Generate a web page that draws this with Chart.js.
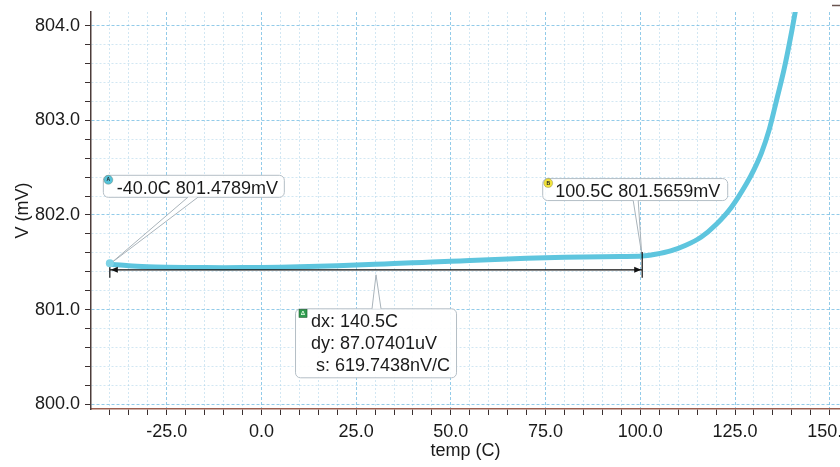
<!DOCTYPE html>
<html>
<head>
<meta charset="utf-8">
<script src="https://cdn.jsdelivr.net/npm/chart.js@4.4.1/dist/chart.umd.min.js"></script>
<style>
  html, body { margin: 0; padding: 0; background: #fff; overflow: hidden; width: 840px; height: 467px; }
  canvas { display: block; }
</style>
</head>
<body>
<canvas id="c" width="880" height="467" style="width:880px;height:467px"></canvas>
<script>
// Sweep of output voltage versus temperature
const temps = [-40, -35, -30, -25, -20, -15, -10, -5, 0, 5, 10, 15, 20, 25, 30, 35, 40, 45, 50, 55, 60, 65, 70, 75, 80, 85, 90, 95,
  100.5, 104, 108, 112, 116, 120, 124, 128, 130, 132, 134, 136, 138, 140, 142];
const voltage = [801.4789, 801.463, 801.454, 801.449, 801.446, 801.444, 801.443, 801.444, 801.446, 801.449, 801.453, 801.458,
  801.464, 801.471, 801.479, 801.487, 801.495, 801.503, 801.511, 801.519, 801.527, 801.535, 801.542, 801.548, 801.553, 801.557,
  801.560, 801.562, 801.5659, 801.585, 801.620, 801.680, 801.765, 801.900, 802.080, 802.330, 802.480, 802.660, 802.900,
  803.220, 803.550, 803.950, 804.400];

// Labelled axis ticks
const xMajorTicks = [-25, 0, 25, 50, 75, 100, 125, 150];
const yMajorTicks = [800, 801, 802, 803, 804];

// Cursors A and B and the delta readout between them
const cursorNames = ['A', 'B'];
const cursorTemps = [-40.0, 100.5];
const cursorVolts = [801.4789, 801.5659];
const deltaLines = ['dx: 140.5C', 'dy: 87.07401uV', ' s: 619.7438nV/C'];

const FONT = '"Liberation Sans", Arial, Helvetica, sans-serif';
const TEXT = '#1a1a1a';
const isMajor = (list, v) => list.some(m => Math.abs(m - v) < 1e-6);

Chart.defaults.font.family = FONT;
Chart.defaults.font.size = 18;
Chart.defaults.color = TEXT;

function roundRectPath(ctx, x, y, w, h, r) {
  ctx.beginPath();
  ctx.moveTo(x + r, y);
  ctx.arcTo(x + w, y, x + w, y + h, r);
  ctx.arcTo(x + w, y + h, x, y + h, r);
  ctx.arcTo(x, y + h, x, y, r);
  ctx.arcTo(x, y, x + w, y, r);
  ctx.closePath();
}

// Rounded label box with a pointer wedge running to a tip
function calloutBox(ctx, box, b1, b2, tip) {
  ctx.save();
  ctx.lineWidth = 1;
  ctx.strokeStyle = '#b4bec6';
  roundRectPath(ctx, box.x + 0.5, box.y + 0.5, box.w, box.h, 5);
  ctx.fillStyle = 'rgba(255,255,255,0.92)';
  ctx.fill();
  ctx.stroke();
  ctx.beginPath();
  ctx.moveTo(b1.x, b1.y);
  ctx.lineTo(tip.x, tip.y);
  ctx.lineTo(b2.x, b2.y);
  ctx.closePath();
  ctx.fillStyle = 'rgba(255,255,255,0.92)';
  ctx.fill();
  ctx.beginPath();
  ctx.moveTo(b1.x, b1.y);
  ctx.lineTo(tip.x, tip.y);
  ctx.lineTo(b2.x, b2.y);
  ctx.strokeStyle = '#a9b3ba';
  ctx.stroke();
  ctx.restore();
}

function iconCircle(ctx, cx, cy, fill, letter) {
  ctx.save();
  ctx.beginPath();
  ctx.arc(cx, cy, 4.5, 0, Math.PI * 2);
  ctx.fillStyle = fill;
  ctx.fill();
  ctx.strokeStyle = 'rgba(90,90,60,0.5)';
  ctx.lineWidth = 0.6;
  ctx.stroke();
  ctx.fillStyle = '#222';
  ctx.font = 'bold 5px ' + FONT;
  ctx.textAlign = 'center';
  ctx.textBaseline = 'middle';
  ctx.fillText(letter, cx, cy + 0.3);
  ctx.restore();
}

const cursorPlugin = {
  id: 'cursorPlugin',
  afterDatasetsDraw(chart) {
    const { ctx, scales: { x, y } } = chart;
    const ax = x.getPixelForValue(cursorTemps[0]);
    const ay = y.getPixelForValue(cursorVolts[0]);
    const bx = x.getPixelForValue(cursorTemps[1]);
    const by = y.getPixelForValue(cursorVolts[1]);
    const labelA = cursorTemps[0].toFixed(1) + 'C ' + cursorVolts[0].toFixed(4) + 'mV';
    const labelB = cursorTemps[1].toFixed(1) + 'C ' + cursorVolts[1].toFixed(4) + 'mV';

    // cursor A label
    const boxA = { x: ax - 7, y: ay - 89.5, w: 181, h: 22 };
    calloutBox(ctx, boxA, { x: ax + 78, y: boxA.y + boxA.h + 0.5 }, { x: ax + 88, y: boxA.y + boxA.h + 0.5 }, { x: ax + 1, y: ay - 1 });
    // cursor B label
    const boxB = { x: bx - 100, y: by - 78, w: 185, h: 22 };
    calloutBox(ctx, boxB, { x: bx - 9, y: boxB.y + boxB.h + 0.5 }, { x: bx - 4, y: boxB.y + boxB.h + 0.5 }, { x: bx - 0.5, y: by - 2 });

    ctx.save();
    ctx.font = '18px ' + FONT;
    ctx.fillStyle = TEXT;
    ctx.textBaseline = 'alphabetic';
    ctx.fillText(labelA, boxA.x + 14, boxA.y + 19);
    ctx.fillText(labelB, boxB.x + 13, boxB.y + 18.5);
    ctx.restore();
    iconCircle(ctx, boxA.x + 5.5, boxA.y + 5, '#56c3da', cursorNames[0]);
    iconCircle(ctx, boxB.x + 6, boxB.y + 5, '#f1e23c', cursorNames[1]);

    // delta measurement arrow
    const arrowY = Math.max(ay, by) + 5.5;
    ctx.save();
    ctx.strokeStyle = '#111';
    ctx.fillStyle = '#111';
    ctx.lineWidth = 1.2;
    ctx.beginPath();
    ctx.moveTo(ax, arrowY); ctx.lineTo(bx, arrowY);
    ctx.moveTo(ax, ay - 1); ctx.lineTo(ax, arrowY + 8);
    ctx.moveTo(bx, by - 4); ctx.lineTo(bx, arrowY + 8);
    ctx.stroke();
    ctx.beginPath();
    ctx.moveTo(ax + 1, arrowY); ctx.lineTo(ax + 8, arrowY - 3); ctx.lineTo(ax + 8, arrowY + 3); ctx.closePath();
    ctx.moveTo(bx - 1, arrowY); ctx.lineTo(bx - 8, arrowY - 3); ctx.lineTo(bx - 8, arrowY + 3); ctx.closePath();
    ctx.fill();
    ctx.restore();

    // cursor A marker
    ctx.save();
    ctx.beginPath();
    ctx.arc(ax, ay - 1, 4, 0, Math.PI * 2);
    ctx.fillStyle = '#7ed3e6';
    ctx.fill();
    ctx.restore();

    // delta readout box
    const mid = (ax + bx) / 2;
    const boxD = { x: mid - 81, y: arrowY + 38.5, w: 161, h: 69 };
    calloutBox(ctx, boxD, { x: mid - 4, y: boxD.y + 0.5 }, { x: mid + 5, y: boxD.y + 0.5 }, { x: mid, y: arrowY + 5 });
    ctx.save();
    ctx.fillStyle = '#2f9b4e';
    ctx.fillRect(boxD.x + 4, boxD.y + 1, 8, 8);
    ctx.strokeStyle = '#1c5a2c';
    ctx.lineWidth = 0.6;
    ctx.strokeRect(boxD.x + 4, boxD.y + 1, 8, 8);
    ctx.fillStyle = '#e8ffe8';
    ctx.font = 'bold 6px ' + FONT;
    ctx.textAlign = 'center';
    ctx.textBaseline = 'middle';
    ctx.fillText('\u0394', boxD.x + 8, boxD.y + 5.3);
    ctx.font = '18px ' + FONT;
    ctx.fillStyle = TEXT;
    ctx.textAlign = 'left';
    ctx.textBaseline = 'alphabetic';
    deltaLines.forEach((line, i) => ctx.fillText(line, boxD.x + 16, boxD.y + 19 + i * 22));
    ctx.restore();

    // small frame mark in the top-right corner
    ctx.save();
    ctx.strokeStyle = '#6a5550';
    ctx.lineWidth = 1.5;
    ctx.beginPath();
    ctx.moveTo(832, 5.5); ctx.lineTo(845, 5.5);
    ctx.stroke();
    ctx.restore();
  }
};

const gridStyle = (list) => ({
  color: ctx => ctx.tick && isMajor(list, ctx.tick.value) ? 'rgba(110,185,225,0.75)' : 'rgba(165,208,232,0.5)',
  lineWidth: 1,
  drawTicks: true,
  tickLength: 6,
  tickColor: '#3b3030',
  tickWidth: 1
});

new Chart(document.getElementById('c'), {
  type: 'line',
  data: {
    datasets: [{
      data: temps.map((t, i) => ({ x: t, y: voltage[i] })),
      borderColor: '#5ec5de',
      borderWidth: 5,
      pointRadius: 0,
      cubicInterpolationMode: 'monotone',
      fill: false
    }]
  },
  options: {
    responsive: false,
    animation: false,
    devicePixelRatio: 1,
    layout: { padding: { top: 12, right: 40, left: 0, bottom: 0 } },
    plugins: { legend: { display: false }, tooltip: { enabled: false } },
    scales: {
      x: {
        type: 'linear',
        min: -44.97,
        max: 152.7,
        afterFit: s => { s.height = 58; s.paddingLeft = 0; s.paddingRight = 0; },
        grid: gridStyle(xMajorTicks),
        border: {
          display: true, color: '#9c5e50', width: 1.5,
          dash: ctx => ctx.tick ? (isMajor(xMajorTicks, ctx.tick.value) ? [3, 2] : [2, 2]) : []
        },
        ticks: {
          stepSize: 5,
          includeBounds: false,
          autoSkip: false,
          maxRotation: 0,
          padding: 6,
          color: TEXT,
          font: { size: 18 },
          callback: v => isMajor(xMajorTicks, v) ? Number(v).toFixed(1) : ''
        },
        title: { display: true, text: 'temp (C)', color: TEXT, font: { size: 18 }, padding: { top: 0, bottom: 5 } }
      },
      y: {
        type: 'linear',
        min: 799.95,
        max: 804.145,
        afterFit: s => { s.width = 91; s.paddingTop = 0; s.paddingBottom = 0; },
        grid: gridStyle(yMajorTicks),
        border: {
          display: true, color: '#4d3c3a', width: 1.5,
          dash: ctx => ctx.tick ? (isMajor(yMajorTicks, ctx.tick.value) ? [3, 2] : [2, 2]) : []
        },
        ticks: {
          stepSize: 0.2,
          includeBounds: false,
          autoSkip: false,
          padding: 5,
          color: TEXT,
          font: { size: 18 },
          callback: v => isMajor(yMajorTicks, v) ? Number(v).toFixed(1) : ''
        },
        title: { display: true, text: 'V (mV)', color: TEXT, font: { size: 18 }, padding: { top: 12, bottom: 0 } }
      }
    }
  },
  plugins: [cursorPlugin]
});
</script>
</body>
</html>
